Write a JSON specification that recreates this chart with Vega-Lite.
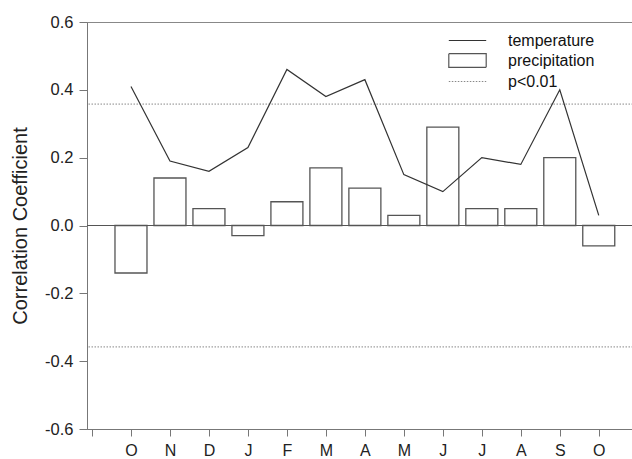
{
  "$schema": "https://vega.github.io/schema/vega-lite/v6.json",
  "width": 546,
  "height": 407,
  "autosize": {"type": "none"},
  "padding": {"left": 87, "top": 22, "right": 0, "bottom": 30},
  "config": {
    "font": "Liberation Sans",
    "view": {"stroke": "#888888", "strokeWidth": 1},
    "axis": {"domainColor": "#777777", "tickColor": "#777777", "labelColor": "#222222", "titleColor": "#222222", "grid": false, "labelFont": "Liberation Sans", "titleFont": "Liberation Sans"}
  },
  "datasets": {
    "series": [
      {"m": 0, "series": "temperature", "value": 0.41},
      {"m": 1, "series": "temperature", "value": 0.19},
      {"m": 2, "series": "temperature", "value": 0.16},
      {"m": 3, "series": "temperature", "value": 0.23},
      {"m": 4, "series": "temperature", "value": 0.46},
      {"m": 5, "series": "temperature", "value": 0.38},
      {"m": 6, "series": "temperature", "value": 0.43},
      {"m": 7, "series": "temperature", "value": 0.15},
      {"m": 8, "series": "temperature", "value": 0.10},
      {"m": 9, "series": "temperature", "value": 0.20},
      {"m": 10, "series": "temperature", "value": 0.18},
      {"m": 11, "series": "temperature", "value": 0.40},
      {"m": 12, "series": "temperature", "value": 0.03},
      {"m": 0, "series": "precipitation", "value": -0.14},
      {"m": 1, "series": "precipitation", "value": 0.14},
      {"m": 2, "series": "precipitation", "value": 0.05},
      {"m": 3, "series": "precipitation", "value": -0.03},
      {"m": 4, "series": "precipitation", "value": 0.07},
      {"m": 5, "series": "precipitation", "value": 0.17},
      {"m": 6, "series": "precipitation", "value": 0.11},
      {"m": 7, "series": "precipitation", "value": 0.03},
      {"m": 8, "series": "precipitation", "value": 0.29},
      {"m": 9, "series": "precipitation", "value": 0.05},
      {"m": 10, "series": "precipitation", "value": 0.05},
      {"m": 11, "series": "precipitation", "value": 0.20},
      {"m": 12, "series": "precipitation", "value": -0.06}
    ],
    "thresholds": [
      {"series": "p<0.01", "value": 0.358},
      {"series": "p<0.01", "value": -0.358}
    ],
    "zero": [{"value": 0}]
  },
  "layer": [
    {
      "data": {"name": "zero"},
      "mark": {"type": "rule", "color": "#555555", "strokeWidth": 1},
      "encoding": {
        "y": {"field": "value", "type": "quantitative", "scale": {"domain": [-0.6, 0.6], "nice": false, "zero": false}}
      }
    },
    {
      "data": {"name": "thresholds"},
      "mark": {"type": "rule", "strokeWidth": 1, "strokeDash": [1.5, 1.5]},
      "encoding": {
        "y": {"field": "value", "type": "quantitative"},
        "stroke": {"field": "series", "type": "nominal"}
      }
    },
    {
      "data": {"name": "series"},
      "transform": [{"filter": "datum.series == 'precipitation'"}],
      "mark": {"type": "bar", "fill": "white", "strokeWidth": 1.3, "size": 32},
      "encoding": {
        "x": {"field": "m", "type": "quantitative"},
        "y": {"field": "value", "type": "quantitative"},
        "stroke": {"field": "series", "type": "nominal"}
      }
    },
    {
      "data": {"name": "series"},
      "transform": [{"filter": "datum.series == 'temperature'"}],
      "mark": {"type": "line", "strokeWidth": 1.2},
      "encoding": {
        "x": {
          "field": "m", "type": "quantitative",
          "scale": {"domain": [-1, 12.75], "nice": false, "zero": false},
          "axis": {
            "title": null,
            "values": [-1, 0, 1, 2, 3, 4, 5, 6, 7, 8, 9, 10, 11, 12],
            "labelExpr": "datum.value < 0 ? '' : ['O','N','D','J','F','M','A','M','J','J','A','S','O'][datum.value]",
            "tickSize": 7,
            "labelPadding": 6,
            "labelFontSize": 16,
            "labelFlush": false,
            "labelOverlap": false
          }
        },
        "y": {
          "field": "value", "type": "quantitative",
          "axis": {
            "title": "Correlation Coefficient",
            "titleFontSize": 20,
            "titleFontWeight": "normal",
            "titlePadding": 14,
            "values": [-0.6, -0.5, -0.4, -0.3, -0.2, -0.1, 0, 0.1, 0.2, 0.3, 0.4, 0.5, 0.6],
            "labelExpr": "abs(round(datum.value*10)) % 2 == 0 ? (datum.value < -0.001 ? '-' : '') + format(abs(datum.value), '.1f') : ''",
            "tickSize": {"condition": {"test": "abs(round(datum.value*10)) % 2 == 0", "value": 8}, "value": 4},
            "labelPadding": 6,
            "labelFontSize": 16.5,
            "labelFlush": false,
            "labelOverlap": false
          }
        },
        "stroke": {
          "field": "series", "type": "nominal",
          "scale": {"domain": ["temperature", "precipitation", "p<0.01"], "range": ["#333333", "#555555", "#888888"]},
          "legend": {
            "title": null,
            "orient": "none",
            "legendX": 371,
            "legendY": 9,
            "padding": 0,
            "symbolSize": 289,
            "symbolStrokeWidth": 1.2,
            "rowPadding": 2,
            "labelOffset": 31,
            "labelFontSize": 16,
            "labelFont": "Liberation Sans",
            "labelColor": "#111111",
            "encode": {
              "symbols": {
                "update": {
                  "shape": {"signal": "datum.value == 'precipitation' ? 'M-2.2,-0.8H2.2V0.8H-2.2Z' : 'M-2.2,0H2.2'"},
                  "strokeDash": {"signal": "datum.value == 'p<0.01' ? [1.5, 1.5] : [1, 0]"},
                  "fill": {"value": "transparent"}
                }
              }
            }
          }
        }
      }
    }
  ]
}
